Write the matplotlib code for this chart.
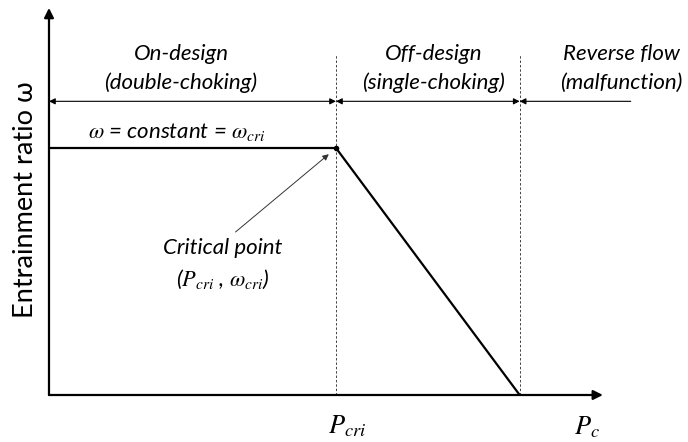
import matplotlib
matplotlib.use("Agg")
import matplotlib.pyplot as plt

plt.rcParams['font.family'] = ['Lato', 'DejaVu Sans']
plt.rcParams['mathtext.fontset'] = 'stix'

# Operating curve of the ejector: entrainment ratio vs. back pressure
pressure = [0.0, 1.0, 1.64]      # origin, P_cri, reverse-flow onset
omega = [1.0, 1.0, 0.0]          # constant up to P_cri, then falling to zero

region_titles = ["On-design", "Off-design", "Reverse flow"]
region_notes = ["(double-choking)", "(single-choking)", "(malfunction)"]

fig = plt.figure(figsize=(6.88, 4.42), dpi=100)
ax = fig.add_axes([0, 0, 1, 1])
ax.set_xlim(-0.1707, 2.2265)
ax.set_ylim(-0.1903, 1.5992)
ax.axis('off')

# Axes with arrow heads
ax.annotate('', xy=(1.93, 0), xytext=(0, 0),
            arrowprops=dict(arrowstyle='-|>', lw=1.6, color='black',
                            mutation_scale=14, shrinkA=0, shrinkB=0))
ax.annotate('', xy=(0, 1.567), xytext=(0, 0),
            arrowprops=dict(arrowstyle='-|>', lw=1.6, color='black',
                            mutation_scale=14, shrinkA=0, shrinkB=0))

# Boundaries between operating regions
for xb in pressure[1:]:
    ax.plot([xb, xb], [0, 1.38], color='#444444', lw=0.7, ls=(0, (2.5, 2)))

# Operating curve
ax.plot(pressure, omega, color='black', lw=1.6, solid_capstyle='butt')
ax.plot(pressure[1], omega[1], 'o', color='black', ms=3)

# Region span arrows
y_span = 1.189
spans = [(0.0, pressure[1]), (pressure[1], pressure[2])]
for x0, x1 in spans:
    ax.annotate('', xy=(x1, y_span), xytext=(x0, y_span),
                arrowprops=dict(arrowstyle='<|-|>', lw=0.8, color='black',
                                mutation_scale=9, shrinkA=0, shrinkB=0))
ax.annotate('', xy=(pressure[2], y_span), xytext=(2.027, y_span),
            arrowprops=dict(arrowstyle='-|>', lw=0.8, color='black',
                            mutation_scale=9, shrinkA=0, shrinkB=0))

# Region labels
label_x = [0.46, 1.34, 1.995]
for xt, title, note in zip(label_x, region_titles, region_notes):
    ax.text(xt, 1.38, title, ha='center', va='center', fontsize=16,
            style='italic')
    ax.text(xt, 1.265, note, ha='center', va='center', fontsize=16,
            style='italic')

ax.text(0.135, 1.065, r'$\omega$ = constant = $\omega_{cri}$', ha='left',
        va='center', fontsize=16, style='italic')

# Critical point callout
ax.annotate('', xy=(0.975, 0.975), xytext=(0.65, 0.66),
            arrowprops=dict(arrowstyle='-|>', lw=0.7, color='#333333',
                            mutation_scale=9, shrinkA=0, shrinkB=0))
ax.text(0.605, 0.595, 'Critical point', ha='center', va='center',
        fontsize=16, style='italic')
ax.text(0.605, 0.47, r'($P_{cri}$ , $\omega_{cri}$)', ha='center',
        va='center', fontsize=16, style='italic')

# Axis labels
ax.text(1.04, -0.125, r'$P_{cri}$', ha='center', va='center', fontsize=19)
ax.text(1.875, -0.13, r'$P_c$', ha='center', va='center', fontsize=19)
ax.text(-0.083, 0.79, 'Entrainment ratio ω', rotation=90, ha='center',
        va='center', fontsize=19.5)

fig.savefig('out.png', dpi=100)
